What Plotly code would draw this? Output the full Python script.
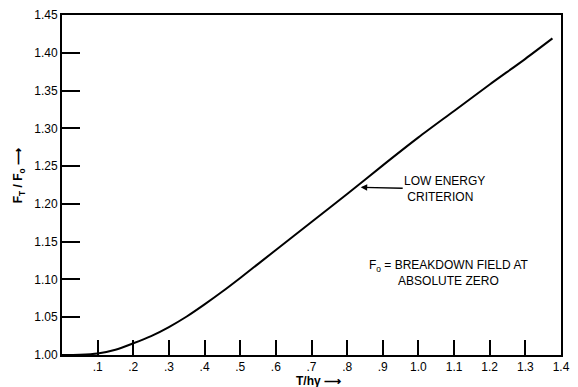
import plotly.graph_objects as go

# Data
t_ratio = [0.0, 0.05, 0.1, 0.15, 0.2, 0.25, 0.3, 0.35, 0.4, 0.45, 0.5, 0.6, 0.7, 0.8, 0.9, 1.0, 1.1, 1.2, 1.3, 1.376]
f_ratio = [1.000, 1.0003, 1.002, 1.007, 1.0155, 1.025, 1.037, 1.051, 1.067, 1.084, 1.102, 1.139, 1.176, 1.213, 1.251, 1.288, 1.323, 1.358, 1.392, 1.419]

x_ticks = [0.1, 0.2, 0.3, 0.4, 0.5, 0.6, 0.7, 0.8, 0.9, 1.0, 1.1, 1.2, 1.3, 1.4]
x_labels = [".1", ".2", ".3", ".4", ".5", ".6", ".7", ".8", ".9", "1.0", "1.1", "1.2", "1.3", "1.4"]
y_ticks = [1.00, 1.05, 1.10, 1.15, 1.20, 1.25, 1.30, 1.35, 1.40, 1.45]
y_labels = ["1.00", "1.05", "1.10", "1.15", "1.20", "1.25", "1.30", "1.35", "1.40", "1.45"]

FONT = "Liberation Sans"

fig = go.Figure()
fig.add_trace(go.Scatter(
    x=t_ratio, y=f_ratio, mode="lines",
    line=dict(color="black", width=2, shape="spline", smoothing=0.8),
    showlegend=False, hoverinfo="skip",
))

W, H = 578, 387
L, R, T, B = 62, 8, 14, 32
pw, ph = W - L - R, H - T - B

def px(xp):
    return (xp - L) / pw

def py(yp):
    return (H - B - yp) / ph

fig.update_layout(
    width=W, height=H,
    margin=dict(l=L, r=R, t=T, b=B),
    paper_bgcolor="white", plot_bgcolor="white",
    xaxis=dict(
        range=[0, 1.4], tickvals=x_ticks, ticktext=x_labels,
        ticks="inside", ticklen=15, tickwidth=1.5, tickcolor="black",
        showline=True, linecolor="black", linewidth=2, mirror=True,
        showgrid=False, zeroline=False,
        tickfont=dict(family=FONT, size=12, color="black"),
    ),
    yaxis=dict(
        range=[1.0, 1.45], tickvals=y_ticks, ticktext=y_labels,
        ticks="inside", ticklen=18, tickwidth=1.5, tickcolor="black",
        showline=True, linecolor="black", linewidth=2, mirror=True,
        showgrid=False, zeroline=False,
        tickfont=dict(family=FONT, size=12, color="black"),
    ),
)

annos = []
# x-axis title
annos.append(dict(xref="paper", yref="paper", x=px(323), y=py(381),
                  text="<b>T/hγ ⟶</b>", showarrow=False, xanchor="center", yanchor="middle",
                  font=dict(family=FONT, size=12, color="black")))
# y-axis title
annos.append(dict(xref="paper", yref="paper", x=px(18), y=py(175),
                  text="<b>F<sub>T</sub> / F<sub>o</sub> ⟶</b>", textangle=-90, showarrow=False,
                  xanchor="center", yanchor="middle",
                  font=dict(family=FONT, size=12, color="black")))
# curve label with pointer to the curve
annos.append(dict(xref="x", yref="y", x=0.838, y=1.222, ax=84, ay=2,
                  text="LOW ENERGY<br> CRITERION", showarrow=True, arrowhead=2, arrowsize=1,
                  arrowwidth=1.3, arrowcolor="black", align="left",
                  font=dict(family=FONT, size=12, color="black")))
# definition note
annos.append(dict(xref="paper", yref="paper", x=px(455), y=py(273),
                  text="F<sub>o</sub> = BREAKDOWN FIELD AT<br>ABSOLUTE ZERO", showarrow=False,
                  xanchor="center", yanchor="middle", align="center",
                  font=dict(family=FONT, size=12, color="black")))
fig.update_layout(annotations=annos)

fig.write_html("out.html")
